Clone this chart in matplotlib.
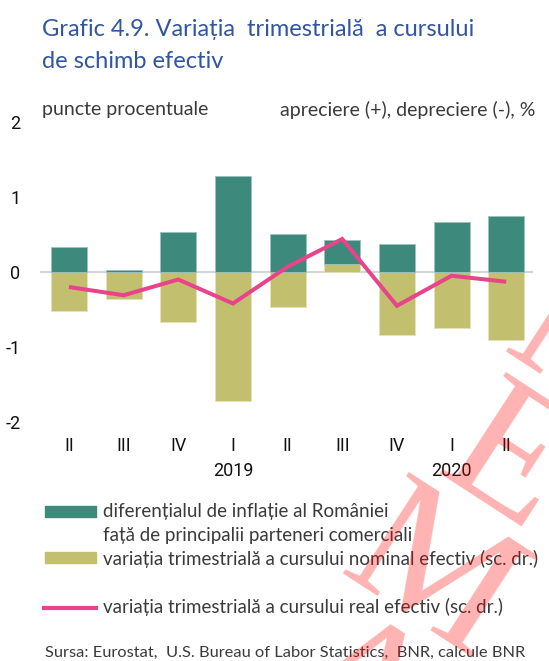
import matplotlib
matplotlib.use("Agg")
import matplotlib.pyplot as plt
from matplotlib.lines import Line2D

W, H = 549, 661
DPI = 100

quarters = ["II", "III", "IV", "I", "II", "III", "IV", "I", "II"]
years = {3: "2019", 7: "2020"}
inflation_diff = [0.33, 0.03, 0.54, 1.28, 0.51, 0.32, 0.38, 0.67, 0.75]
nominal_eff = [-0.52, -0.36, -0.66, -1.72, -0.47, 0.11, -0.84, -0.74, -0.90]
real_eff = [-0.20, -0.31, -0.10, -0.42, 0.07, 0.44, -0.45, -0.05, -0.13]
yticks = [-2, -1, 0, 1, 2]

GREEN = "#3d897c"
OLIVE = "#c2c06f"
PINK = "#e8438b"
BLUE = "#2f55a4"
GREY_TXT = "#3a3a3a"

narrow = "Roboto"
body = "Lato"

fig = plt.figure(figsize=(W / DPI, H / DPI), dpi=DPI)


def fx(x):
    return x / W


def fy(y):
    return 1 - y / H


# plot area in pixel coordinates
left, right, top, bottom = 40, 533, 122, 422
ax = fig.add_axes([fx(left), fy(bottom), (right - left) / W, (bottom - top) / H])
ax.set_xlim(-0.53, 8.49)
ax.set_ylim(-2, 2)
for s in ax.spines.values():
    s.set_visible(False)

x = list(range(len(quarters)))
# stacked components: negative parts go below zero, positive stack upward
nom_pos = [v if v > 0 else 0 for v in nominal_eff]
nom_neg = [v if v < 0 else 0 for v in nominal_eff]
bw = 0.66
ax.bar(x, nom_neg, width=bw, color=OLIVE, edgecolor="#e3e2b8", linewidth=0.6, zorder=2)
ax.bar(x, nom_pos, width=bw, color=OLIVE, edgecolor="#e3e2b8", linewidth=0.6, zorder=2)
ax.bar(x, inflation_diff, width=bw, bottom=nom_pos, color=GREEN,
       edgecolor="#9cc3bb", linewidth=0.6, zorder=2)
ax.axhline(0, color="#d6d6d6", lw=1.6, zorder=1)
ax.plot(x, real_eff, color=PINK, lw=2.9, solid_capstyle="butt", solid_joinstyle="miter", zorder=3)

ax.set_yticks(yticks)
ax.set_yticklabels([str(t) for t in yticks], fontfamily=narrow, fontsize=13, color="#111111")
ax.tick_params(axis="y", length=0, pad=14)
ax.set_xticks(x)
ax.set_xticklabels(quarters, fontfamily=narrow, fontsize=13, color="#111111")
ax.tick_params(axis="x", length=0, pad=11)
for i, yr in years.items():
    ax.text(i, -2 - 49 / 75, yr, ha="center", va="center",
            fontfamily=narrow, fontsize=13, color="#111111")

# titles
fig.text(fx(42), fy(30), "Grafic 4.9. Variația  trimestrială  a cursului", color=BLUE,
         fontsize=17, fontfamily=body, va="center", ha="left")
fig.text(fx(42), fy(62), "de schimb efectiv", color=BLUE,
         fontsize=17, fontfamily=body, va="center", ha="left")
fig.text(fx(42), fy(110), "puncte procentuale", color=GREY_TXT,
         fontsize=14, fontfamily=body, va="center", ha="left")
fig.text(fx(535), fy(110), "apreciere (+), depreciere (-), %", color=GREY_TXT,
         fontsize=14, fontfamily=body, va="center", ha="right")

# legend
fig.patches.append(plt.Rectangle((fx(45), fy(517)), 51 / W, 11 / H, transform=fig.transFigure,
                                 color=GREEN, figure=fig))
fig.patches.append(plt.Rectangle((fx(45), fy(563)), 51 / W, 11 / H, transform=fig.transFigure,
                                 color=OLIVE, figure=fig))
fig.lines.append(Line2D([fx(44), fx(96)], [fy(608), fy(608)], transform=fig.transFigure,
                        color=PINK, lw=3, figure=fig))
leg_kw = dict(color=GREY_TXT, fontsize=13.5, fontfamily=body, va="center", ha="left")
fig.text(fx(103), fy(512), "diferențialul de inflație al României", **leg_kw)
fig.text(fx(103), fy(536), "față de principalii parteneri comerciali", **leg_kw)
fig.text(fx(103), fy(559), "variația trimestrială a cursului nominal efectiv (sc. dr.)", **leg_kw)
fig.text(fx(103), fy(607), "variația trimestrială a cursului real efectiv (sc. dr.)", **leg_kw)
fig.text(fx(45), fy(653), "Sursa: Eurostat,  U.S. Bureau of Labor Statistics,  BNR, calcule BNR",
         color=GREY_TXT, fontsize=11.75, fontfamily=body, va="center", ha="left")

# stamp letters stacked along the right margin
stamp_kw = dict(color="red", alpha=0.3, fontsize=133, fontfamily="Liberation Serif",
                rotation=-33, rotation_mode="anchor", ha="center", va="center", zorder=10)
for letter, (px, py) in [("N", (580, 350)), ("E", (505, 466)), ("M", (430, 580)), ("A", (355, 695))]:
    fig.text(fx(px), fy(py), letter, **stamp_kw)

fig.savefig("out.png", dpi=DPI)
